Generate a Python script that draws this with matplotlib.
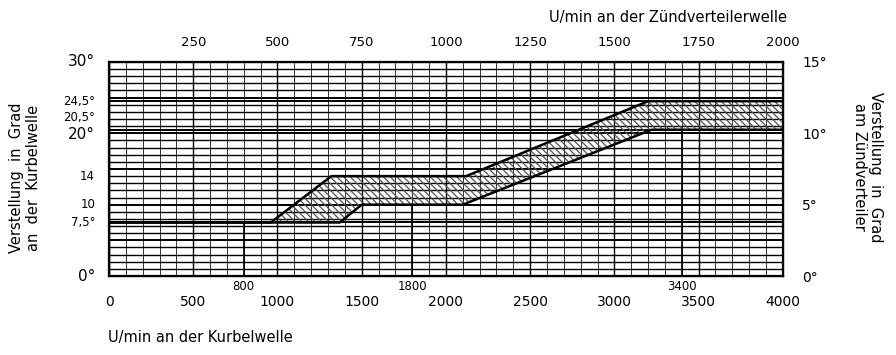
import numpy as np
import matplotlib
matplotlib.use("Agg")
import matplotlib.pyplot as plt
from matplotlib.transforms import blended_transform_factory, offset_copy

plt.rcParams['font.family'] = ['DejaVu Sans']

# advance curve (crankshaft rpm / degrees at crankshaft)
rpm_upper = [0, 960, 1320, 2120, 3200, 4000]
adv_upper = [7.5, 7.5, 14, 14, 24.5, 24.5]
rpm_lower = [0, 960, 1370, 1500, 2100, 3220, 4000]
adv_lower = [7.5, 7.5, 7.5, 10, 10, 20.5, 20.5]

crank_ticks = [0, 500, 1000, 1500, 2000, 2500, 3000, 3500, 4000]
dist_ticks = [250, 500, 750, 1000, 1250, 1500, 1750, 2000]
left_ticks = [0, 7.5, 10, 14, 20, 20.5, 24.5, 30]
left_labels = ['0°', '7,5°', '10', '14', '20°', '20,5°', '24,5°', '30°']
right_ticks = [0, 5, 10, 15]
marks = [800, 1800, 3400]

fig = plt.figure(figsize=(8.96, 3.55), dpi=100)
ax = fig.add_axes([0.1217, 0.2225, 0.752, 0.603])
ax.set_xlim(0, 4000)
ax.set_ylim(0, 30)

# grid
for x in range(0, 4001, 100):
    lw = 1.0 if x % 500 == 0 else 0.55
    ax.axvline(x, color='black', lw=lw, zorder=1)
for y in list(range(0, 31)) + [7.5, 20.5, 24.5]:
    lw = 1.4 if (y % 5 == 0 or y in (7.5, 20.5, 24.5)) else 1.0
    ax.axhline(y, color='black', lw=lw, zorder=1)

# hatched band
band_x = rpm_upper[1:] + rpm_lower[::-1][:-1]
band_y = adv_upper[1:] + adv_lower[::-1][:-1]
plt.rcParams['hatch.linewidth'] = 0.9
ax.fill(band_x, band_y, facecolor='none', edgecolor='#555555',
        hatch='\\' * 5, lw=0, zorder=2)
ax.plot(rpm_upper, adv_upper, color='black', lw=1.8, zorder=3)
ax.plot(rpm_lower, adv_lower, color='black', lw=1.8, zorder=3)

# marker lines and labels
for m in marks:
    yv = np.interp(m, rpm_lower, adv_lower)
    ax.plot([m, m], [0, yv], color='black', lw=1.2, zorder=3)
    ax.text(m, -0.6, str(m), ha='center', va='top', fontsize=8.5)

for s in ax.spines.values():
    s.set_linewidth(1.6)

ax.set_xticks(crank_ticks)
ax.set_xticklabels([str(t) for t in crank_ticks], fontsize=10)
ax.tick_params(axis='x', length=0, pad=14)
ax.set_yticks([])

trans = blended_transform_factory(ax.transAxes, ax.transData)
for t, lab in zip(left_ticks, left_labels):
    big = lab in ('0°', '20°', '30°')
    dy = 0
    if t == 20.5:
        dy = 9
    elif t == 20:
        dy = -1
    tr = offset_copy(trans, fig=fig, x=-10, y=dy, units='points')
    ax.text(0, t, lab, transform=tr, ha='right', va='center',
            fontsize=11 if big else 8.5)

# right axis, distributor degrees
ax_r = ax.twinx()
ax_r.set_ylim(0, 15)
ax_r.set_yticks(right_ticks)
ax_r.set_yticklabels([f'{t}°' for t in right_ticks], fontsize=10)
ax_r.tick_params(axis='y', length=0, pad=14)

# top axis, distributor rpm
ax_t = ax.twiny()
ax_t.set_xlim(0, 2000)
ax_t.set_xticks(dist_ticks)
ax_t.set_xticklabels([str(t) for t in dist_ticks], fontsize=9.5)
ax_t.tick_params(axis='x', length=0, pad=9)

fig.text(0.745, 0.952, 'U/min an der Zündverteilerwelle', ha='center',
         va='center', fontsize=10.5)
fig.text(0.12, 0.05, 'U/min an der Kurbelwelle', ha='left', va='center',
         fontsize=10.5)
fig.text(0.028, 0.5, 'Verstellung  in  Grad\nan  der  Kurbelwelle',
         rotation=90, ha='center', va='center', fontsize=10.5,
         linespacing=1.1)
fig.text(0.968, 0.53, 'Verstellung  in  Grad\nam Zündverteiler',
         rotation=270, ha='center', va='center', fontsize=10.5,
         linespacing=1.1)

fig.savefig('out.png', dpi=100)
